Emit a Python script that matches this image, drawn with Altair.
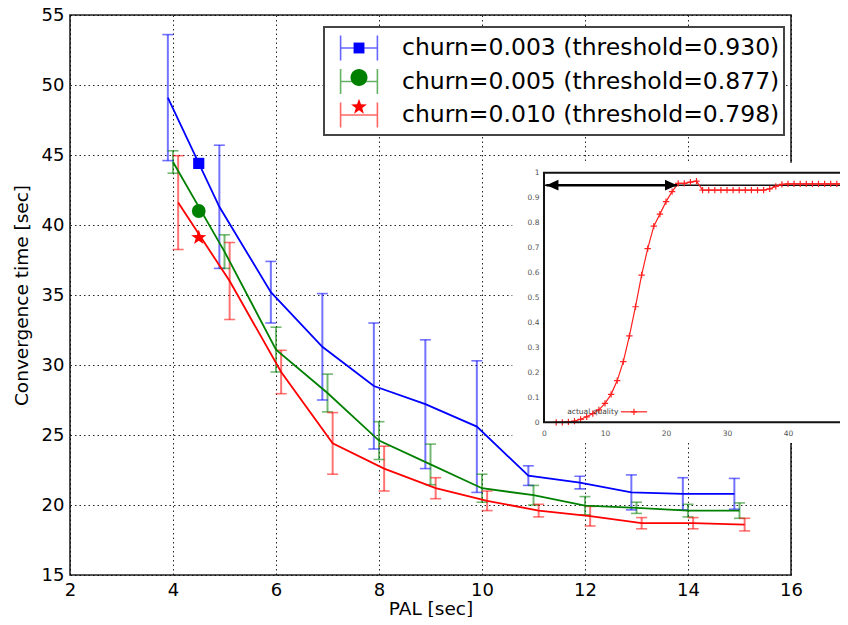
import math
import altair as alt
import pandas as pd

FONT = "DejaVu Sans"

# ---------------- data ----------------
series_names = [
    "churn=0.003 (threshold=0.930)",
    "churn=0.005 (threshold=0.877)",
    "churn=0.010 (threshold=0.798)",
]
series_colors = ["#0000ff", "#008000", "#ff0000"]
series_shift = [-0.1, 0.0, 0.1]

pal_values = [4, 5, 6, 7, 8, 9, 10, 11, 12, 13, 14, 15]

blue_mean = [49.1, 41.3, 35.2, 31.3, 28.5, 27.2, 25.6, 22.1, 21.6, 20.9, 20.8, 20.8]
blue_err = [4.5, 4.4, 2.2, 3.8, 4.5, 4.6, 4.7, 0.7, 0.45, 1.25, 1.15, 1.1]
green_mean = [44.5, 38.1, 31.1, 28.0, 24.6, 22.9, 21.2, 20.7, 19.95, 19.8, 19.6, 19.6]
green_err = [0.8, 1.2, 1.6, 1.35, 1.35, 1.45, 1.0, 0.7, 0.65, 0.4, 0.45, 0.55]
red_mean = [41.6, 36.0, 29.5, 24.4, 22.6, 21.2, 20.3, 19.6, 19.2, 18.7, 18.7, 18.6]
red_err = [3.35, 2.75, 1.55, 2.2, 1.6, 0.75, 0.7, 0.45, 0.7, 0.4, 0.4, 0.45]

marker_pal = 4.5
marker_values = [44.4, 41.0, 39.1]

x_ticks = [2, 4, 6, 8, 10, 12, 14, 16]
y_ticks = [15, 20, 25, 30, 35, 40, 45, 50, 55]

# inset: "actual quality" over time
inset_t = list(range(2, 51))
inset_quality = [
    0.0, 0.0, 0.002, 0.005, 0.012, 0.022, 0.035, 0.05, 0.076, 0.112,
    0.167, 0.243, 0.346, 0.463, 0.59, 0.696, 0.786, 0.834, 0.884, 0.924,
    0.957, 0.957, 0.962, 0.966, 0.93, 0.93, 0.93, 0.93, 0.93, 0.93,
    0.93, 0.93, 0.93, 0.93, 0.93, 0.935, 0.945, 0.953, 0.955, 0.955,
    0.955, 0.955, 0.955, 0.955, 0.955, 0.955, 0.955, 0.955, 0.955,
]
inset_x_ticks = [0, 10, 20, 30, 40, 50]
inset_y_ticks = [0, 0.1, 0.2, 0.3, 0.4, 0.5, 0.6, 0.7, 0.8, 0.9, 1.0]
inset_threshold = 0.95
inset_arrow = [0.4, 21.8]
inset_label = "actual quality"

# ---------------- tables ----------------
rows = []
for name, shift, mean, err in zip(
    series_names, series_shift,
    [blue_mean, green_mean, red_mean], [blue_err, green_err, red_err]
):
    for p, m, e in zip(pal_values, mean, err):
        rows.append({"series": name, "x": p + shift, "y": m, "lo": m - e, "hi": m + e})
main_df = pd.DataFrame(rows)
marker_df = pd.DataFrame({"series": series_names, "x": [marker_pal] * 3, "y": marker_values})
inset_df = pd.DataFrame({"t": inset_t, "q": inset_quality})


def star_path(r_out, r_in):
    pts = []
    for k in range(10):
        r = r_out if k % 2 == 0 else r_in
        a = math.radians(-90 + 36 * k)
        pts.append(f"{r * math.cos(a):.3f},{r * math.sin(a):.3f}")
    return "M" + "L".join(pts) + "Z"


def circle_path(r):
    return f"M{-r},0A{r},{r} 0 1,0 {r},0A{r},{r} 0 1,0 {-r},0Z"


def square_path(h):
    return f"M{-h},{-h}L{h},{-h}L{h},{h}L{-h},{h}Z"


errbar_glyph = "M-1.15,0L1.15,0M-1.15,-0.78L-1.15,0.78M1.15,-0.78L1.15,0.78"
plus_glyph = "M-1,0L1,0M0,-1L0,1"

# ---------------- main scales / axes ----------------
x_scale = alt.Scale(domain=[2, 16], nice=False, zero=False)
y_scale = alt.Scale(domain=[15, 55], nice=False, zero=False)
x_axis = alt.Axis(
    values=x_ticks, title="PAL [sec]", grid=True, ticks=False, domain=False,
    labelFontSize=18, titleFontSize=18.5, labelPadding=6.5, titlePadding=0,
    labelFlush=False, labelOverlap=False, gridDash=[1.5, 3], gridColor="#000",
    gridOpacity=0.85, gridWidth=1, labelColor="#000", titleColor="#000",
    titleFontWeight="normal", format="d",
)
y_axis = alt.Axis(
    values=y_ticks, title="Convergence time [sec]", grid=True, ticks=False, domain=False,
    labelFontSize=18, titleFontSize=18.5, labelPadding=6, titlePadding=10,
    labelFlush=False, labelOverlap=False, gridDash=[1.5, 3], gridColor="#000",
    gridOpacity=0.85, gridWidth=1, labelColor="#000", titleColor="#000",
    titleFontWeight="normal", format="d",
)
X = alt.X("x:Q", scale=x_scale, axis=x_axis)
color_scale = alt.Scale(domain=series_names, range=series_colors)
C = alt.Color("series:N", scale=color_scale, legend=None)

base = alt.Chart(main_df)
rules = base.mark_rule(strokeWidth=2, opacity=0.55).encode(
    x=X, y=alt.Y("lo:Q", scale=y_scale, axis=y_axis), y2="hi:Q", color=C
)
caps_lo = base.mark_tick(orient="horizontal", size=11, thickness=1.6, opacity=0.55).encode(
    x=X, y=alt.Y("lo:Q", scale=y_scale, axis=y_axis), color=C
)
caps_hi = base.mark_tick(orient="horizontal", size=11, thickness=1.6, opacity=0.55).encode(
    x=X, y=alt.Y("hi:Q", scale=y_scale, axis=y_axis), color=C
)
lines = base.mark_line(strokeWidth=1.8).encode(
    x=X, y=alt.Y("y:Q", scale=y_scale, axis=y_axis), color=C, order="x:Q"
)
markers = alt.Chart(marker_df).mark_point(filled=True, opacity=1).encode(
    x=X, y=alt.Y("y:Q", scale=y_scale, axis=y_axis), color=C,
    shape=alt.Shape("series:N", scale=alt.Scale(domain=series_names,
                    range=["square", "circle", star_path(1, 0.4)]), legend=None),
    size=alt.Size("series:N", scale=alt.Scale(domain=series_names, range=[125, 256, 240]),
                  legend=None),
)

legend_common = dict(
    orient="none", legendX=254, legendY=12, title=None, padding=4,
    symbolSize=1024, symbolOffset=14, labelOffset=26, rowPadding=0.5,
    labelFontSize=23.5, labelFont=FONT, labelLimit=1000,
)
legA = alt.Legend(strokeColor="#444", fillColor="white", labelColor="#000",
                  symbolStrokeWidth=1.6, **legend_common)
legB = alt.Legend(labelColor="transparent", **legend_common)

leg_err = alt.Chart(marker_df).transform_filter("datum.y < 0").mark_point(
    filled=False, opacity=0.6, strokeWidth=1.6
).encode(
    x=X, y=alt.Y("y:Q", scale=y_scale, axis=y_axis),
    color=alt.Color("series:N", scale=color_scale, legend=legA),
    shape=alt.Shape("series:N", scale=alt.Scale(domain=series_names, range=[errbar_glyph] * 3),
                    legend=legA),
)
leg_mark = alt.Chart(marker_df).transform_filter("datum.y < 0").mark_point(
    filled=True, opacity=1
).encode(
    x=X, y=alt.Y("y:Q", scale=y_scale, axis=y_axis),
    color=alt.Color("series:N", scale=color_scale, legend=legB),
    shape=alt.Shape("series:N", scale=alt.Scale(domain=series_names,
                    range=[square_path(0.34), circle_path(0.53), star_path(0.52, 0.21)]),
                    legend=legB),
)

main = alt.layer(rules, caps_lo, caps_hi, lines, markers, leg_err, leg_mark).resolve_scale(
    color="independent", shape="independent", size="independent"
)

# ---------------- inset ----------------
PLOT_W, PLOT_H = 721, 560
inset_x_scale = alt.Scale(domain=[0, 50], range=[474, 779], nice=False, zero=False)
inset_y_scale = alt.Scale(domain=[0, 1], range=[407.3, 157.7], nice=False, zero=False)
inset_x_axis = alt.Axis(
    orient="bottom", offset=407.3 - PLOT_H, values=inset_x_ticks, title=None, grid=False,
    ticks=False, domain=False, labelFontSize=7.5, labelColor="#555", labelPadding=7,
    labelFlush=False, labelOverlap=False, format="d", zindex=2,
)
inset_y_axis = alt.Axis(
    orient="left", offset=-474, values=inset_y_ticks, title=None, grid=False,
    ticks=False, domain=False, labelFontSize=7.5, labelColor="#555", labelPadding=5,
    labelFlush=False, labelOverlap=False, format="~g", zindex=2,
)


def IX(f):
    return alt.X(f, type="quantitative", scale=inset_x_scale, axis=inset_x_axis)


def IY(f):
    return alt.Y(f, type="quantitative", scale=inset_y_scale, axis=inset_y_axis)


inset_box = pd.DataFrame({"x": [-5.2], "x2": [53.0], "y": [-0.083], "y2": [1.04]})
inset_bg = alt.Chart(inset_box).mark_rect(fill="white", stroke=None).encode(
    x=IX("x"), x2="x2", y=IY("y"), y2="y2"
)
frame_df = pd.DataFrame({"x": [0], "x2": [50], "y": [0], "y2": [1]})
inset_frame = alt.Chart(frame_df).mark_rect(fill="white", fillOpacity=0, stroke="#111",
                                            strokeWidth=2).encode(
    x=IX("x"), x2="x2", y=IY("y"), y2="y2"
)
thr_df = pd.DataFrame({"x": [0], "x2": [50], "y": [inset_threshold]})
thr_line = alt.Chart(thr_df).mark_rule(color="#111", strokeWidth=1.5).encode(
    x=IX("x"), x2="x2", y=IY("y")
)
arrow_df = pd.DataFrame({"x": [inset_arrow[0]], "x2": [inset_arrow[1]], "y": [inset_threshold]})
arrow_shaft = alt.Chart(arrow_df).mark_rule(color="#000", strokeWidth=2.5).encode(
    x=IX("x"), x2="x2", y=IY("y")
)
head_l = alt.Chart(pd.DataFrame({"x": [inset_arrow[0]], "y": [inset_threshold]})).mark_point(
    shape="M0,0L2,-0.9L2,0.9Z", filled=True, size=144, color="#000", opacity=1
).encode(x=IX("x"), y=IY("y"))
head_r = alt.Chart(pd.DataFrame({"x": [inset_arrow[1]], "y": [inset_threshold]})).mark_point(
    shape="M0,0L-2,-0.9L-2,0.9Z", filled=True, size=144, color="#000", opacity=1
).encode(x=IX("x"), y=IY("y"))
curve = alt.Chart(inset_df).mark_line(color="#ff2020", strokeWidth=1.2).encode(
    x=IX("t"), y=IY("q")
)
curve_pts = alt.Chart(inset_df).mark_point(
    shape=plus_glyph, filled=False, size=40, color="#ff2020", strokeWidth=1.2, opacity=1
).encode(x=IX("t"), y=IY("q"))

ileg_text_df = pd.DataFrame({"x": [3.8], "y": [0.042], "label": [inset_label]})
ileg_text = alt.Chart(ileg_text_df).mark_text(
    align="left", baseline="middle", fontSize=7.5, color="#444", font=FONT
).encode(x=IX("x"), y=IY("y"), text="label:N")
ileg_line_df = pd.DataFrame({"x": [12.6], "x2": [16.9], "y": [0.042]})
ileg_line = alt.Chart(ileg_line_df).mark_rule(color="#ff2020", strokeWidth=1.2).encode(
    x=IX("x"), x2="x2", y=IY("y")
)
ileg_pt = alt.Chart(pd.DataFrame({"x": [14.75], "y": [0.042]})).mark_point(
    shape=plus_glyph, filled=False, size=40, color="#ff2020", strokeWidth=1.2, opacity=1
).encode(x=IX("x"), y=IY("y"))

inset = alt.layer(inset_bg, thr_line, curve, curve_pts, arrow_shaft, head_l, head_r,
                  inset_frame, ileg_text, ileg_line, ileg_pt)

chart = alt.layer(main, inset).resolve_scale(
    x="independent", y="independent", color="independent",
    shape="independent", size="independent"
).properties(
    width=PLOT_W, height=PLOT_H,
    padding={"left": 62, "top": 7, "right": 49, "bottom": 42},
    autosize=alt.AutoSizeParams(type="none"),
).configure(
    font=FONT
).configure_view(
    stroke="#222", strokeWidth=1.6
).configure_axis(
    labelFont=FONT, titleFont=FONT
).configure_legend(
    strokeWidth=2
)

chart.save("out.html", embed_options={"renderer": "svg", "actions": False})
